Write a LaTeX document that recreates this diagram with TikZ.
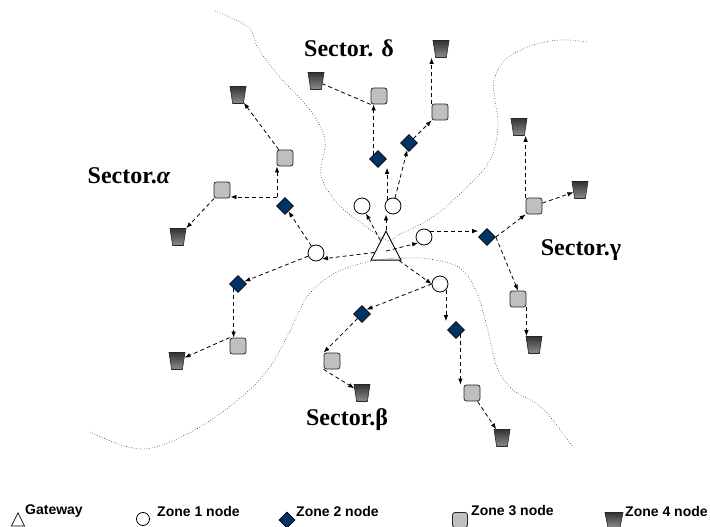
\documentclass[tikz,border=0pt]{standalone}
\usepackage{fontspec}
\setmainfont{Liberation Serif}
\newfontfamily\legendfont{Liberation Sans}
\usetikzlibrary{shapes.geometric, arrows.meta, positioning}
\definecolor{zonetwo}{RGB}{0,51,102}
\tikzstyle{gateway} = [isosceles triangle, shape border rotate=90, isosceles triangle stretches, minimum width=30pt, minimum height=29pt, inner sep=0pt, draw=black, line width=0.9pt]
\tikzstyle{zone1} = [circle, minimum size=16pt, inner sep=0pt, draw=black, fill=white, line width=0.8pt]
\tikzstyle{zone2} = [diamond, minimum size=17pt, inner sep=0pt, draw=black, fill=zonetwo, line width=0.6pt]
\tikzstyle{zone3} = [rectangle, rounded corners=2.5pt, minimum size=16pt, inner sep=0pt, draw=black!85, fill=black!25, line width=0.8pt]
\tikzstyle{zone4} = [trapezium, shape border rotate=180, trapezium angle=76, trapezium stretches=true, minimum width=16pt, minimum height=17pt, inner sep=1pt, draw=black!85, top color=black!80, bottom color=black!45, line width=0.6pt]
\tikzstyle{link} = [dashed, dash pattern=on 4pt off 3pt, line width=0.8pt, -{Latex[length=6pt, width=4.5pt]}]
\tikzstyle{border} = [dotted, line width=0.6pt, black!85]
\tikzstyle{sector} = [font=\fontsize{24}{28}\selectfont\bfseries]
\tikzstyle{legend} = [font=\legendfont\fontsize{14}{16}\selectfont\bfseries, anchor=west, inner sep=0pt]

\begin{document}
\begin{tikzpicture}[x=1pt, y=-1pt]

    \useasboundingbox (0,0) rectangle (710,527);

    % sector borders
    \draw [border] plot [smooth, tension=0.6] coordinates {(215,11) (248,27) (258,48) (278,75) (310,110) (325,140) (321,175) (337,203) (360,222) (386,240) (400,234) (433,217) (467,187) (490,160) (498,127) (495,100) (494,80) (505,60) (530,46) (560,40) (588,42)};
    \draw [border] plot [smooth, tension=0.6] coordinates {(90,432) (140,449) (187,434) (233,404) (267,371) (290,331) (307,297) (333,274) (363,263) (386,259) (403,258) (430,259) (460,268) (477,293) (487,327) (497,367) (513,390) (542,408) (573,447)};

    % gateway and zone 1
    \node (gw) [gateway, anchor=apex] at (386,230) {};
    \node (c1) [zone1] at (362,206) {};
    \node (c2) [zone1] at (393,206) {};
    \node (c3) [zone1] at (316,253) {};
    \node (c4) [zone1] at (424,237) {};
    \node (c5) [zone1] at (440,284) {};

    % zone 2
    \node (d1) [zone2] at (378,159) {};
    \node (d2) [zone2] at (409,143) {};
    \node (d3) [zone2] at (285,206) {};
    \node (d4) [zone2] at (238,284) {};
    \node (d5) [zone2] at (487,237) {};
    \node (d6) [zone2] at (362,314) {};
    \node (d7) [zone2] at (456,330) {};

    % zone 3
    \node (s1) [zone3] at (379,96) {};
    \node (s2) [zone3] at (440,112) {};
    \node (s3) [zone3] at (285,158) {};
    \node (s4) [zone3] at (222,190) {};
    \node (s5) [zone3] at (238,346) {};
    \node (s6) [zone3] at (534,206) {};
    \node (s7) [zone3] at (518,299) {};
    \node (s8) [zone3] at (332,361) {};
    \node (s9) [zone3] at (472,393) {};

    % zone 4
    \node (t1) [zone4] at (441,49) {};
    \node (t2) [zone4] at (316,81) {};
    \node (t3) [zone4] at (238,95) {};
    \node (t4) [zone4] at (178,237) {};
    \node (t5) [zone4] at (177,361) {};
    \node (t6) [zone4] at (519,127) {};
    \node (t7) [zone4] at (580,190) {};
    \node (t8) [zone4] at (534,345) {};
    \node (t9) [zone4] at (362,393) {};
    \node (t10) [zone4] at (502,438) {};

    \coordinate (d3k) at (277,197);

    % sector delta
    \draw [link] (gw) -- (c1);
    \draw [link] (gw.apex) -- (gw.apex |- c2.south);
    \draw [link] (c2.north west) -- (c2.north west |- d1.south);
    \draw [link] (c2) -- (d2);
    \draw [link] (d1.north west) -- (d1.north west |- s1.south);
    \draw [link, -] (s1.south west) -- (t2);
    \draw [link] (d2) -- (s2);
    \draw [link] (s2.north west) -- (s2.north west |- t1.south);

    % sector alpha
    \draw [link] (gw) -- (c3.south east);
    \draw [link] (c3) -- (d3);
    \draw [link] (d3k) -- (d3k -| s4.east);
    \draw [link] (d3k) -- (d3k |- s3.south);
    \draw [link] (s3) -- (t3);
    \draw [link] (s4) -- (t4);
    \draw [link] (c3) -- (d4);
    \draw [link] (d4.south west) -- (d4.south west |- s5.north);
    \draw [link] (s5.north west) -- (t5);

    % sector gamma
    \draw [link] (gw.center) -- (c4.south west);
    \draw [link] (c4.north east) -- (c4.north east -| d5.west);
    \draw [link] (d5.east) -- (s6.south west);
    \draw [link] (d5.east) -- (s7.north);
    \draw [link] (s6.north west) -- (s6.north west |- t6.south);
    \draw [link] (s6) -- (t7);
    \draw [link] (s7.south east) -- (s7.south east |- t8.north);

    % sector beta
    \draw [link] (gw) -- (c5.west);
    \draw [link] (c5.west) -- (d6.north east);
    \draw [link] (c5.south east) -- (c5.south east |- d7.north);
    \draw [link] (d6) -- (s8.north west);
    \draw [link] (s8.south west) -- (t9);
    \draw [link] (d7.south east) -- (d7.south east |- s9.north);
    \draw [link] (s9) -- (t10);

    % sector names
    \node (alpha) [sector] at (129,176) {Sector.\textit{α}};
    \node (delta) [sector] at (349,48) {Sector. δ};
    \node (gamma) [sector] at (581,250) {Sector.γ};
    \node (beta) [sector] at (347,420) {Sector.β};

    % legend
    \node (lgw) [gateway, anchor=apex, minimum width=13pt, minimum height=13pt, line width=0.7pt] at (18,512) {};
    \node (lgwt) [legend] at (25,511) {Gateway};
    \node (lc) [zone1, minimum size=13pt] at (143,519) {};
    \node (lct) [legend] at (157,511) {Zone 1 node};
    \node (ld) [zone2, minimum size=16pt] at (287,520) {};
    \node (ldt) [legend] at (296,511) {Zone 2 node};
    \node (ls) [zone3, minimum size=15pt] at (460,520) {};
    \node (lst) [legend] at (471,511) {Zone 3 node};
    \node (lt) [zone4, minimum width=18pt, minimum height=15pt] at (614,520) {};
    \node (ltt) [legend] at (625,511) {Zone 4 node};

\end{tikzpicture}
\end{document}
